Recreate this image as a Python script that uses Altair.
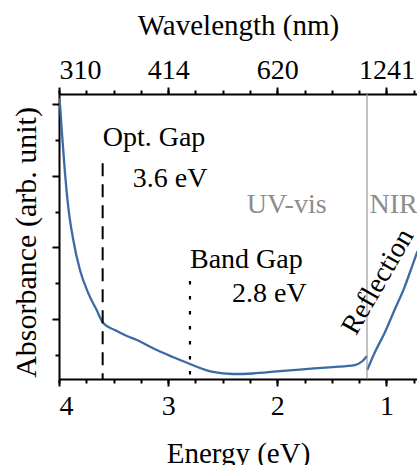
import altair as alt
import pandas as pd

# ---- data ----
uv_energy = [4.00, 3.991, 3.975, 3.945, 3.915, 3.869, 3.808, 3.732, 3.655, 3.595,
             3.488, 3.378, 3.286, 3.231, 3.103, 2.957, 2.801, 2.591, 2.408, 2.225,
             2.005, 1.795, 1.493, 1.292, 1.219, 1.178]
uv_abs = [4.08, 3.99, 3.636, 3.036, 2.562, 2.102, 1.683, 1.362, 1.125, 0.944,
          0.846, 0.763, 0.707, 0.665, 0.567, 0.470, 0.372, 0.261, 0.233, 0.240,
          0.268, 0.295, 0.330, 0.358, 0.414, 0.484]
nir_energy = [1.176, 1.109, 1.017, 0.926, 0.834, 0.761, 0.715]
nir_abs = [0.289, 0.526, 0.805, 1.125, 1.446, 1.753, 1.948]

energy_ticks = [4, 3, 2, 1]
energy_minor = [4, 3.75, 3.5, 3.25, 3, 2.75, 2.5, 2.25, 2, 1.75, 1.5, 1.25, 1, 0.75]
wavelength_labels = ["310", "414", "620", "1241"]
abs_major = [1, 2, 3, 4]
abs_minor = [0.5, 1.5, 2.5, 3.5]

x_domain = [0.72, 4.0]
y_domain = [0.163, 4.14]

opt_gap_E = [3.6]
opt_gap_top = [3.175]
band_gap_E = [2.8]
band_gap_top = [1.53]
boundary_E = [1.178]

title_text = ["Opt. Gap", "Band Gap"]
title_E = [3.60, 2.80]
title_A = [3.41, 1.71]
value_text = ["3.6 eV", "2.8 eV"]
value_E = [2.64, 1.73]
value_A = [2.84, 1.24]
region_text = ["UV-vis", "NIR"]
region_E = [2.28, 1.155]
region_A = [2.478, 2.478]
refl_text = ["Reflection"]
refl_E = [1.075]
refl_A = [1.52]

FONT = "Liberation Serif"
BLUE = "#3b6ba5"

uv = pd.DataFrame({"E": uv_energy, "A": uv_abs})
nir = pd.DataFrame({"E": nir_energy, "A": nir_abs})

xs = alt.Scale(domain=x_domain, reverse=True, nice=False, zero=False)
ys = alt.Scale(domain=y_domain, nice=False, zero=False)

lbl_expr = " : ".join(
    f"datum.value == {e} ? '{l}'" for e, l in zip(energy_ticks, wavelength_labels)
) + " : ''"

bottom_major = alt.Axis(orient="bottom", values=energy_ticks, format="d",
                        title="Energy (eV)", tickSize=7, labelPadding=6,
                        titlePadding=19, grid=False)
bottom_minor = alt.Axis(orient="bottom", values=energy_minor, labels=False,
                        tickSize=4, domain=False, title=None, grid=False)
top_major = alt.Axis(orient="top", values=energy_ticks, labelExpr=lbl_expr,
                     title="Wavelength (nm)", tickSize=7, labelPadding=3,
                     titlePadding=16, grid=False)
top_minor = alt.Axis(orient="top", values=energy_minor, labels=False,
                     tickSize=4, domain=False, title=None, grid=False)
left_major = alt.Axis(orient="left", values=abs_major, labels=False,
                      tickSize=7, title="Absorbance (arb. unit)",
                      titleFontSize=30, titleY=148,
                      titlePadding=10, grid=False)
left_minor = alt.Axis(orient="left", values=abs_minor, labels=False,
                      tickSize=4, domain=False, title=None, grid=False)

line_uv = alt.Chart(uv).mark_line(color=BLUE, strokeWidth=2.3,
                                  interpolate="monotone", clip=True).encode(
    x=alt.X("E:Q", scale=xs, axis=bottom_major),
    y=alt.Y("A:Q", scale=ys, axis=left_major),
)
line_nir = alt.Chart(nir).mark_line(color=BLUE, strokeWidth=2.3,
                                    interpolate="monotone", clip=True).encode(
    x=alt.X("E:Q", scale=xs, axis=top_major),
    y=alt.Y("A:Q", scale=ys, axis=left_minor),
)

boundary = alt.Chart(pd.DataFrame({"E": boundary_E})).mark_rule(
    color="#9a9a9a", strokeWidth=1.2).encode(
    x=alt.X("E:Q", scale=xs, axis=bottom_minor),
)

opt_rule = alt.Chart(pd.DataFrame({"E": opt_gap_E, "top": opt_gap_top,
                                   "bot": [y_domain[0]]})).mark_rule(
    color="black", strokeWidth=2, strokeDash=[13, 8]).encode(
    x=alt.X("E:Q", scale=xs, axis=top_minor),
    y=alt.Y("top:Q", scale=ys, axis=None),
    y2="bot:Q",
)
band_rule = alt.Chart(pd.DataFrame({"E": band_gap_E, "top": band_gap_top,
                                    "bot": [y_domain[0]]})).mark_rule(
    color="black", strokeWidth=2.2, strokeDash=[3.5, 11.5]).encode(
    x=alt.X("E:Q", scale=xs, axis=None),
    y=alt.Y("top:Q", scale=ys, axis=None),
    y2="bot:Q",
)


def text_layer(texts, es, as_, **kw):
    df = pd.DataFrame({"E": es, "A": as_, "t": texts})
    return alt.Chart(df).mark_text(font=FONT, fontSize=28, **kw).encode(
        x=alt.X("E:Q", scale=xs, axis=None),
        y=alt.Y("A:Q", scale=ys, axis=None),
        text="t:N",
    )


t_titles = text_layer(title_text, title_E, title_A, align="left",
                      baseline="alphabetic", color="black")
t_values = text_layer(value_text, value_E, value_A, align="right",
                      baseline="alphabetic", color="black")
t_regions = text_layer(region_text, region_E, region_A, align="left",
                       baseline="alphabetic", color="#8c8c8c")
t_refl = text_layer(refl_text, refl_E, refl_A, align="center",
                    baseline="middle", color="black", angle=300)

chart = alt.layer(
    line_uv, line_nir, boundary, opt_rule, band_rule,
    t_titles, t_values, t_regions, t_refl,
).resolve_axis(x="independent", y="independent").properties(
    width=358, height=285,
    autosize=alt.AutoSizeParams(type="none"),
    padding={"left": 59, "top": 94, "right": 0, "bottom": 86},
).configure_view(strokeWidth=0).configure_axis(
    labelFont=FONT, titleFont=FONT, labelFontSize=28, titleFontSize=29,
    titleFontWeight="normal", labelColor="black", titleColor="black",
    domainColor="black", tickColor="black", domainWidth=2, tickWidth=2,
)

chart.save("out.html", embed_options={"renderer": "svg", "actions": False})
